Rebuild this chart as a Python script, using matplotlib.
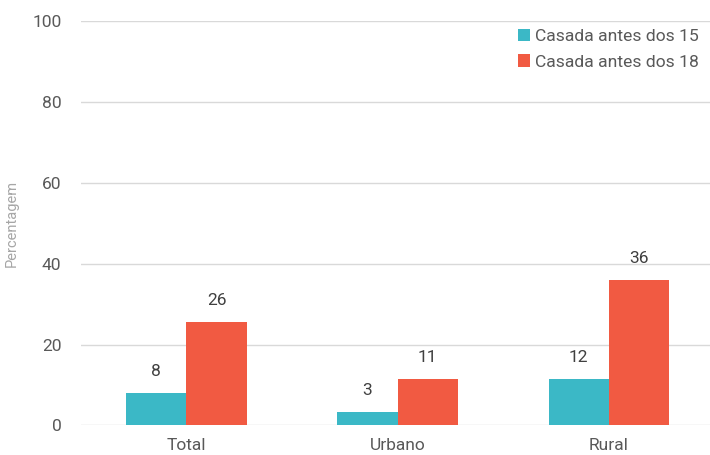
import matplotlib

matplotlib.use("Agg")

import matplotlib.pyplot as plt
import numpy as np

categories = ["Total", "Urbano", "Rural"]
before_15 = [8.1, 3.3, 11.6]
before_18 = [25.6, 11.4, 36.0]
series_names = ["Casada antes dos 15", "Casada antes dos 18"]
yticks = [0, 20, 40, 60, 80, 100]

TEAL = "#3BB8C6"
RED = "#F15A42"
TEXT = "#404040"

plt.rcParams["font.family"] = ["Roboto", "DejaVu Sans"]

fig = plt.figure(figsize=(7.1, 4.55), dpi=100)
ax = fig.add_axes([0.114, 0.065, 0.892, 0.889])

x = np.arange(len(categories))
w = 0.285
b1 = ax.bar(x - w / 2, before_15, w, color=TEAL, label=series_names[0], zorder=3)
b2 = ax.bar(x + w / 2, before_18, w, color=RED, label=series_names[1], zorder=3)

for bars in (b1, b2):
    for rect in bars:
        h = rect.get_height()
        ax.annotate(f"{h:.0f}", (rect.get_x() + rect.get_width() / 2, h),
                    xytext=(0, 10), textcoords="offset points",
                    ha="center", va="bottom", fontsize=12.5, color=TEXT)

ax.set_xlim(-0.5, 2.5)
ax.set_ylim(0, 100)
ax.set_yticks(yticks)
ax.set_xticks(x, categories)
ax.grid(axis="y", color="#d9d9d9", linewidth=1, zorder=0)
for s in ax.spines.values():
    s.set_visible(False)
ax.tick_params(axis="both", length=0, labelsize=12.5, labelcolor="#595959")
ax.tick_params(axis="y", pad=14)
ax.tick_params(axis="x", pad=9)
ax.set_ylabel("Percentagem", fontsize=10.5, color="#a6a6a6", labelpad=10)

leg = ax.legend(loc="upper right", frameon=False, fontsize=12.6, handlelength=0.7,
                handleheight=0.7, handletextpad=0.25, labelspacing=0.6,
                bbox_to_anchor=(1.0, 1.02))
for t in leg.get_texts():
    t.set_color("#595959")

fig.savefig("out.png", dpi=100)
